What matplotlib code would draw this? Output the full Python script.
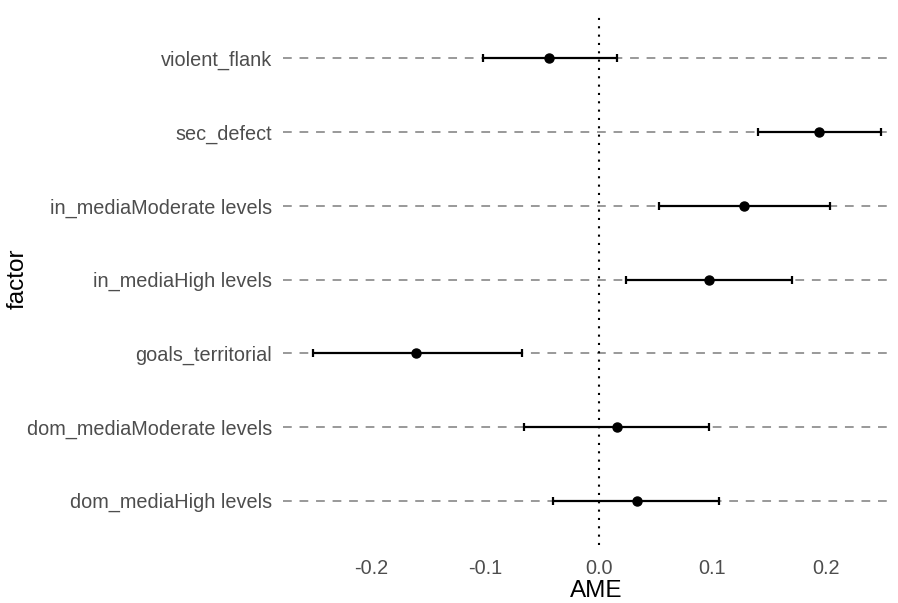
import numpy as np
import matplotlib.pyplot as plt

plt.rcParams['font.family'] = ['Liberation Sans', 'DejaVu Sans']

factors = ["dom_mediaHigh levels", "dom_mediaModerate levels", "goals_territorial",
           "in_mediaHigh levels", "in_mediaModerate levels", "sec_defect", "violent_flank"]
ame = [0.034, 0.016, -0.161, 0.097, 0.128, 0.194, -0.044]
lower = [-0.040, -0.066, -0.252, 0.024, 0.053, 0.140, -0.102]
upper = [0.106, 0.097, -0.068, 0.170, 0.203, 0.248, 0.016]

ame = np.array(ame)
lower = np.array(lower)
upper = np.array(upper)
ypos = np.arange(len(factors)) + 1

fig = plt.figure(figsize=(8.98, 6.03), dpi=100)
ax = fig.add_axes([283 / 898, 58 / 603, 609 / 898, 531 / 603])

for y in ypos:
    ax.axhline(y, color="#999999", lw=1.4, ls=(0, (4.5, 4)), zorder=1)
ax.axvline(0, color="black", lw=1.5, ls=(0, (1, 3)), zorder=2)

ax.errorbar(ame, ypos, xerr=[ame - lower, upper - ame], fmt="o", color="black",
            ms=6.5, lw=1.6, capsize=3, capthick=1.6, zorder=3)

ax.set_xlim(-0.278, 0.258)
ax.set_ylim(0.4, 7.6)
ax.set_yticks(ypos)
ax.set_yticklabels(factors)
ax.set_xticks([-0.2, -0.1, 0.0, 0.1, 0.2])
ax.set_xticklabels(["-0.2", "-0.1", "0.0", "0.1", "0.2"])
ax.tick_params(axis="y", length=0, labelsize=14.3, labelcolor="#4D4D4D", pad=8)
ax.tick_params(axis="x", length=0, labelsize=14.3, labelcolor="#4D4D4D", pad=10)
for s in ax.spines.values():
    s.set_visible(False)
fig.text(596 / 898, 1 - 591 / 603, "AME", fontsize=17.5, ha="center", va="center")
fig.text(18 / 898, 1 - 279 / 603, "factor", fontsize=17.5, ha="center", va="center",
         rotation=90)

fig.savefig("out.png", dpi=100)
